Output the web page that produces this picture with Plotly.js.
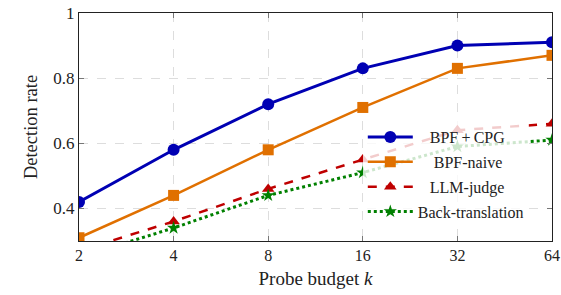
<!DOCTYPE html>
<html>
<head>
<meta charset="utf-8">
<script src="https://cdn.plot.ly/plotly-3.0.1.min.js"></script>
<style>html,body{margin:0;padding:0;background:#fff;}#chart{width:561px;height:295px;}</style>
</head>
<body>
<div id="chart"></div>
<script>
const budgets = [2, 4, 8, 16, 32, 64];
const bpfCpg = [0.42, 0.58, 0.72, 0.83, 0.90, 0.91];
const bpfNaive = [0.31, 0.44, 0.58, 0.71, 0.83, 0.87];
const llmJudge = [0.27, 0.36, 0.46, 0.55, 0.64, 0.66];
const backTranslation = [0.25, 0.34, 0.44, 0.51, 0.59, 0.61];
const seriesNames = ['BPF\u2009+\u2009CPG', 'BPF-naive', 'LLM-judge', 'Back-translation'];
const yTicks = [0.4, 0.6, 0.8, 1];
const yTickLabels = ['0.4', '0.6', '0.8', '1'];

// pad legend labels so they sit centred in the legend column, as in the original
const pad = n => '\u00a0'.repeat(n);
const serif = 'Liberation Serif, Times New Roman, serif';
const traces = [
  {x: budgets, y: bpfCpg, name: pad(3) + seriesNames[0], mode: 'lines+markers', legendgroup: 'a',
   line: {color: '#0000b3', width: 3}, marker: {symbol: 'circle', size: 12, color: '#0000b3'}},
  {x: budgets, y: bpfNaive, name: pad(4) + seriesNames[1], mode: 'lines+markers', legendgroup: 'b',
   line: {color: '#e07000', width: 2.5}, marker: {symbol: 'square', size: 11, color: '#e07000'}},
  {x: budgets, y: llmJudge, name: pad(3) + seriesNames[2], mode: 'lines+markers', legendgroup: 'c',
   line: {color: '#bf0000', width: 2.5, dash: 'dash'}, marker: {symbol: 'triangle-up', size: 11, color: '#bf0000'}},
  {x: budgets, y: backTranslation, name: seriesNames[3], mode: 'lines+markers', legendgroup: 'd',
   line: {color: '#008000', width: 3, dash: 'dot'}, marker: {symbol: 'star', size: 10, color: '#008000'}}
];

const layout = {
  width: 561, height: 295,
  margin: {l: 79, r: 9, t: 13, b: 54},
  paper_bgcolor: '#fff', plot_bgcolor: '#fff',
  font: {family: serif, size: 16, color: '#222'},
  showlegend: true,
  legend: {x: 0.6, xanchor: 'left', y: 0.53, yanchor: 'top',
           bgcolor: 'rgba(255,255,255,0.8)', borderwidth: 0,
           font: {family: serif, size: 16, color: '#222'}, itemwidth: 45,
           traceorder: 'grouped', tracegroupgap: 1},
  xaxis: {type: 'log', range: [Math.log10(2), Math.log10(64)],
          tickvals: budgets, ticktext: budgets.map(String),
          showline: true, mirror: 'ticks', linecolor: '#222', linewidth: 1,
          ticks: 'inside', ticklen: 5, tickcolor: '#777',
          showgrid: true, gridcolor: '#dddddd', griddash: 'dash', gridwidth: 1,
          zeroline: false, tickfont: {family: serif, size: 16},
          title: {text: 'Probe budget <i>k</i>', font: {family: serif, size: 19}, standoff: 8}},
  yaxis: {range: [0.3, 1], tickvals: yTicks, ticktext: yTickLabels,
          showline: true, mirror: 'ticks', linecolor: '#222', linewidth: 1,
          ticks: 'inside', ticklen: 5, tickcolor: '#777',
          showgrid: true, gridcolor: '#dddddd', griddash: 'dash', gridwidth: 1,
          zeroline: false, tickfont: {family: serif, size: 17},
          title: {text: 'Detection rate', font: {family: serif, size: 18.5}, standoff: 10}}
};

Plotly.newPlot('chart', traces, layout, {displayModeBar: false, staticPlot: true});
</script>
</body>
</html>
